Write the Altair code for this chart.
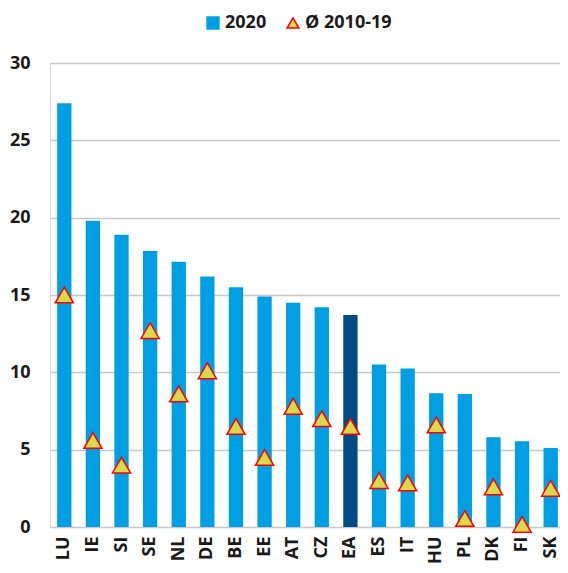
import altair as alt
import pandas as pd

countries = ["LU", "IE", "SI", "SE", "NL", "DE", "BE", "EE", "AT", "CZ", "EA",
             "ES", "IT", "HU", "PL", "DK", "FI", "SK"]
v2020 = [27.4, 19.8, 18.9, 17.85, 17.15, 16.2, 15.5, 14.9, 14.5, 14.2, 13.7,
         10.5, 10.25, 8.65, 8.6, 5.8, 5.55, 5.1]
avg1019 = [15.0, 5.6, 4.0, 12.7, 8.6, 10.1, 6.5, 4.5, 7.8, 7.0, 6.5,
           3.0, 2.85, 6.6, 0.55, 2.6, 0.17, 2.5]
series_names = ["2020", "Ø 2010-19"]
y_ticks = [0, 5, 10, 15, 20, 25, 30]

bars_df = pd.DataFrame({"country": countries, "value": v2020, "series": series_names[0]})
pts_df = pd.DataFrame({"country": countries, "value": avg1019, "series": series_names[1]})

FONT = "Open Sans"
BLUE = "#009FE3"
NAVY = "#004A85"
YELLOW = "#D9D94C"
RED = "#FF0000"
TXT = "#1a1a1a"

x_enc = alt.X("country:N", sort=countries,
              scale=alt.Scale(paddingInner=0.5, paddingOuter=0.25, range=[0, 515]),
              axis=alt.Axis(title=None, labelAngle=-90, labelFont=FONT, labelFontSize=18,
                            labelFontWeight="bold", labelColor=TXT, ticks=False,
                            domain=False, labelPadding=9, grid=False))
y_enc = alt.Y("value:Q", scale=alt.Scale(domain=[0, 30], nice=False),
              axis=alt.Axis(title=None, values=y_ticks, labelFont=FONT, labelFontSize=18,
                            labelFontWeight="bold", labelColor=TXT, ticks=False,
                            domain=False, labelPadding=20, grid=True, gridColor="#c8c8c8",
                            gridWidth=1.5))

legend = alt.Legend(title=None, orient="none", legendX=154, legendY=-49,
                    direction="horizontal",
                    labelFont=FONT, labelFontSize=18, labelFontWeight="bold",
                    labelColor=TXT, symbolSize=140, symbolStrokeWidth=1.5,
                    labelOffset=3, columnPadding=17)

color_scale = alt.Scale(domain=series_names, range=[BLUE, YELLOW])
shape_scale = alt.Scale(domain=series_names, range=["square", "triangle-up"])
stroke_scale = alt.Scale(domain=series_names, range=[BLUE, RED])

bars = alt.Chart(bars_df).mark_bar().encode(
    x=x_enc, y=y_enc,
    color=alt.condition("datum.country == 'EA'", alt.value(NAVY),
                        alt.Color("series:N", scale=color_scale, legend=legend)),
)

pts = alt.Chart(pts_df).mark_point(filled=True, size=330, strokeWidth=1.5, opacity=1).encode(
    x=alt.X("country:N", sort=countries), y="value:Q",
    color=alt.Color("series:N", scale=color_scale, legend=legend),
    shape=alt.Shape("series:N", scale=shape_scale, legend=legend),
    stroke=alt.Stroke("series:N", scale=stroke_scale, legend=legend),
)

chart = alt.layer(bars, pts).properties(
    width=510, height=464,
    padding={"left": 42, "top": 55, "right": 0, "bottom": 38},
    autosize=alt.AutoSizeParams(type="none"),
).configure_view(stroke=None).configure(font=FONT)

chart.save("out.html", embed_options={"renderer": "svg", "actions": False})
